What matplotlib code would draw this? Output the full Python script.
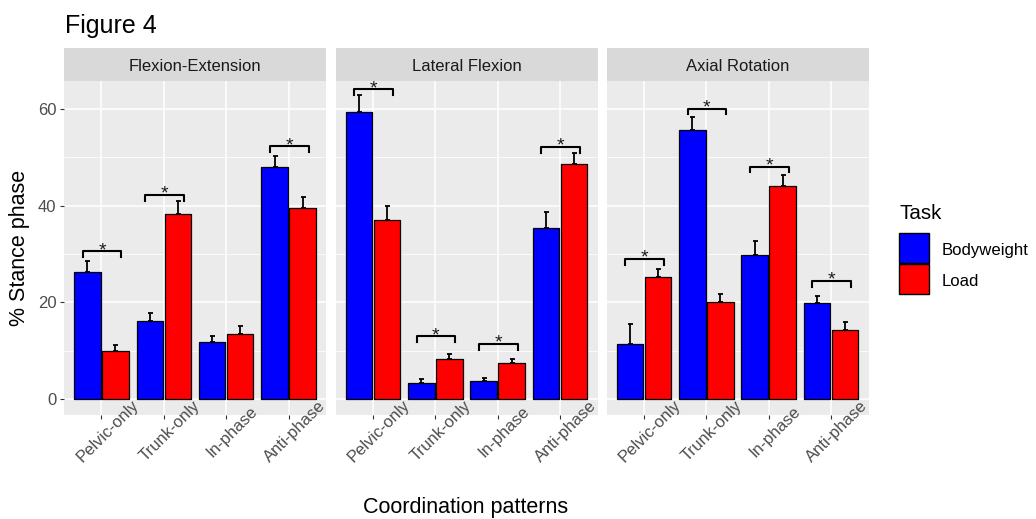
import numpy as np
import matplotlib.pyplot as plt
from matplotlib.patches import Rectangle
from matplotlib.transforms import ScaledTranslation

plt.rcParams['font.family'] = ['Liberation Sans', 'DejaVu Sans']

# data
planes = ["Flexion-Extension", "Lateral Flexion", "Axial Rotation"]
patterns = ["Pelvic-only", "Trunk-only", "In-phase", "Anti-phase"]
tasks = ["Bodyweight", "Load"]

bodyweight_mean = [[26.2, 16.1, 11.9, 48.1],
                   [59.4, 3.4, 3.7, 35.3],
                   [11.4, 55.7, 29.9, 19.9]]
bodyweight_err = [[2.3, 1.6, 1.1, 2.2],
                  [3.5, 0.7, 0.6, 3.4],
                  [4.2, 2.6, 2.8, 1.5]]
load_mean = [[10.0, 38.2, 13.5, 39.5],
             [37.0, 8.3, 7.4, 48.6],
             [25.2, 20.0, 44.1, 14.2]]
load_err = [[1.2, 2.8, 1.6, 2.2],
            [3.0, 1.0, 0.9, 2.2],
            [1.7, 1.7, 2.2, 1.8]]
# height of the significance bracket (None = not significant)
signif = [[30.6, 42.2, None, 52.3],
          [64.1, 13.0, 11.4, 52.2],
          [29.0, 60.1, 48.1, 24.4]]

colors = ["#0000FF", "#FF0000"]

W, H = 1036, 519
fig = plt.figure(figsize=(W / 100, H / 100), dpi=100)

panel_left = [64, 335.5, 606.5]
panel_w = 262
top, bottom = 80.5, 414.5
panel_h = bottom - top

x = np.arange(1, len(patterns) + 1)
shift = ScaledTranslation(6 / 100, 0, fig.dpi_scale_trans)

for i, plane in enumerate(planes):
    ax = fig.add_axes([panel_left[i] / W, 1 - bottom / H, panel_w / W, panel_h / H])
    ax.set_facecolor("#EBEBEB")
    for s in ax.spines.values():
        s.set_visible(False)
    ax.set_xlim(0.4, 4.6)
    ax.set_ylim(-3.2, 65.9)
    ax.set_yticks([0, 20, 40, 60])
    ax.set_yticks([10, 30, 50], minor=True)
    ax.grid(which="major", color="white", linewidth=1.1)
    ax.grid(which="minor", axis="y", color="white", linewidth=0.55)
    ax.set_axisbelow(True)
    ax.tick_params(which="minor", length=0)
    ax.tick_params(which="major", length=3.2, width=0.8, color="#333333",
                   labelcolor="#4D4D4D", labelsize=12)
    ax.tick_params(axis="y", pad=2.2)
    ax.tick_params(axis="x", pad=9)
    if i > 0:
        ax.tick_params(axis="y", left=False, labelleft=False)

    ax.set_xticks(x)
    ax.set_xticklabels(patterns, rotation=45, rotation_mode="anchor",
                       ha="center", va="center")
    for lab in ax.get_xticklabels():
        lab.set_transform(lab.get_transform() + shift)

    for k, (means, errs) in enumerate([(bodyweight_mean, bodyweight_err),
                                       (load_mean, load_err)]):
        xpos = x + (k - 0.5) * 0.45
        ax.bar(xpos, means[i], 0.425, color=colors[k], edgecolor="black",
               linewidth=0.9, zorder=2)
        ax.errorbar(xpos, means[i], yerr=[np.zeros(len(x)), errs[i]], fmt="none",
                    ecolor="black", elinewidth=1.3, capsize=1.8, capthick=1.3, zorder=3)

    for j, h in enumerate(signif[i]):
        if h is None:
            continue
        x0, x1 = x[j] - 0.3, x[j] + 0.32
        ax.plot([x0, x0, x1, x1], [h - 1.2, h, h, h - 1.2], color="black",
                linewidth=1.5, zorder=4)
        ax.text(x[j] + 0.01, h - 0.8, "*", ha="center", va="baseline", fontsize=14,
                color="#1A1A1A", zorder=4)

    # facet strip
    ax.add_patch(Rectangle((0, 1), 1, 32.5 / panel_h, transform=ax.transAxes,
                           facecolor="#D9D9D9", edgecolor="none", clip_on=False))
    ax.text(0.5, 1 + (top - 71.0) / panel_h, plane,
            transform=ax.transAxes, ha="center", va="baseline", fontsize=12,
            color="#1A1A1A")

fig.text(20 / W, 1 - 247.5 / H, "% Stance phase", rotation=90, ha="center",
         va="center", fontsize=15.5)
fig.text(466 / W, 1 - 507 / H, "Coordination patterns", ha="center",
         va="center", fontsize=15.5)
fig.text(65 / W, 1 - 33.3 / H, "Figure 4", ha="left", va="baseline", fontsize=18)

# legend
fig.text(900 / W, 1 - 219 / H, "Task", ha="left", va="baseline", fontsize=14.8)
key_top = [232.7, 264]
label_base = [255, 286]
for k, task in enumerate(tasks):
    fig.add_artist(Rectangle((899 / W, 1 - (key_top[k] + 30) / H), 30 / W, 30 / H,
                             transform=fig.transFigure, facecolor=colors[k],
                             edgecolor="black", linewidth=1.0))
    fig.text(941.7 / W, 1 - label_base[k] / H, task, ha="left", va="baseline",
             fontsize=12.1)

fig.savefig("out.png", dpi=100, facecolor="white")
